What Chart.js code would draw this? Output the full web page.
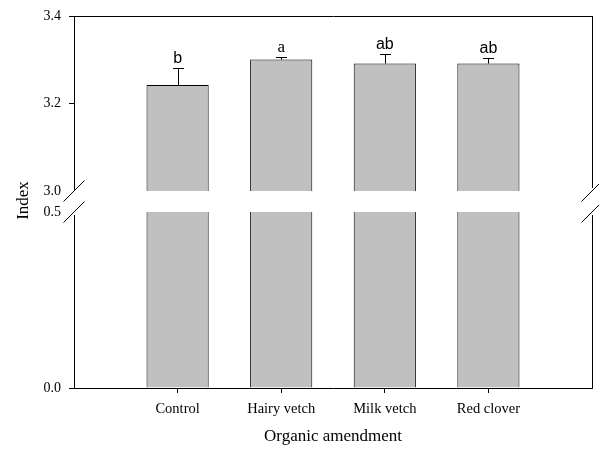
<!DOCTYPE html>
<html lang="en">
<head>
<meta charset="UTF-8">
<title>Index by organic amendment</title>
<script src="https://cdn.jsdelivr.net/npm/chart.js"></script>
<style>
  html, body { margin: 0; padding: 0; background: #fff; }
  .wrap { position: relative; width: 599px; height: 450px; }
  .wrap canvas { position: absolute; left: 0; top: 0; }
</style>
</head>
<body>
<div class="wrap">
  <canvas id="lowerChart" width="599" height="450"></canvas>
  <canvas id="upperChart" width="599" height="450"></canvas>
</div>
<script>
const categories = ['Control', 'Hairy vetch', 'Milk vetch', 'Red clover'];
const indexMeans = [3.243, 3.301, 3.292, 3.292];
const indexErrors = [0.039, 0.006, 0.021, 0.012];
const sigLetters = ['b', 'a', 'ab', 'ab'];
const upperTicks = [3.0, 3.2, 3.4];
const lowerTicks = [0.0, 0.5];

// empty slots at both ends so the bars sit at 1..4 of a 0..5 axis
const xLabels = ['', ...categories, ''];
const barData = [null, ...indexMeans, null];

const serif = "'Liberation Serif', 'Times New Roman', serif";
const sans = "'Liberation Sans', Arial, sans-serif";
const crisp = v => Math.round(v) + 0.5;

function xScaleOpts(show) {
  return {
    type: 'category',
    display: show,
    offset: false,
    afterFit: s => { if (show) s.height = 62; },
    grid: {
      offset: false,
      drawOnChartArea: false,
      tickLength: 5,
      tickColor: c => (c.index === 0 || c.index === xLabels.length - 1) ? 'rgba(0,0,0,0)' : '#000'
    },
    border: { display: true, color: '#000', width: 1 },
    ticks: { color: '#000', font: { family: serif, size: 14.5 }, padding: 7, maxRotation: 0, autoSkip: false },
    title: {
      display: true, text: 'Organic amendment', color: '#000',
      font: { family: serif, size: 17 }, padding: { top: 0, bottom: 3 }
    }
  };
}

function yScaleOpts(min, max, tickValues, hiddenTick) {
  return {
    min: min,
    max: max,
    afterFit: s => { s.width = 74; },
    afterBuildTicks: s => { s.ticks = tickValues.map(v => ({ value: v })); },
    grid: {
      drawOnChartArea: false,
      tickLength: 5,
      tickColor: c => (c.tick && c.tick.value === hiddenTick) ? 'rgba(0,0,0,0)' : '#000'
    },
    border: { display: false },
    ticks: { color: '#000', font: { family: serif, size: 14 }, padding: 8, callback: v => v.toFixed(1) }
  };
}

function slash(ctx, cx, cy) {
  ctx.beginPath();
  ctx.moveTo(cx - 10.5, cy + 10.5);
  ctx.lineTo(cx + 10.5, cy - 10.5);
  ctx.stroke();
}

function vline(ctx, x, y1, y2) {
  ctx.beginPath();
  ctx.moveTo(crisp(x), y1);
  ctx.lineTo(crisp(x), y2);
  ctx.stroke();
}

// error whiskers, letters, frame and break marks of the upper part
const upperMarks = {
  id: 'upperMarks',
  afterDatasetsDraw(chart) {
    const ctx = chart.ctx;
    const y = chart.scales.y;
    const bars = chart.getDatasetMeta(0).data;
    ctx.save();
    ctx.strokeStyle = '#000';
    ctx.lineWidth = 1;
    indexMeans.forEach((m, i) => {
      const bar = bars[i + 1];
      const x = crisp(bar.x);
      const yMean = y.getPixelForValue(m);
      const yTop = crisp(y.getPixelForValue(m + indexErrors[i]));
      ctx.beginPath();
      ctx.moveTo(x, yMean);
      ctx.lineTo(x, yTop);
      ctx.moveTo(x - 5.5, yTop);
      ctx.lineTo(x + 5.5, yTop);
      ctx.stroke();
      const letter = sigLetters[i];
      ctx.font = letter === 'a' ? '17px ' + serif : '16px ' + sans;
      ctx.fillStyle = '#000';
      ctx.textAlign = 'center';
      ctx.textBaseline = 'alphabetic';
      ctx.fillText(letter, bar.x, yTop - 5.5);
    });
    ctx.restore();
  },
  afterDraw(chart) {
    const ctx = chart.ctx;
    const a = chart.chartArea;
    ctx.save();
    ctx.strokeStyle = '#000';
    ctx.lineWidth = 1;
    ctx.beginPath();
    ctx.moveTo(a.left, crisp(a.top));
    ctx.lineTo(a.right + 1, crisp(a.top));
    ctx.stroke();
    vline(ctx, a.left, a.top, a.bottom - 1);
    vline(ctx, a.right, a.top, a.bottom - 3);
    slash(ctx, a.left, a.bottom);
    slash(ctx, a.right, a.bottom);
    ctx.restore();
  }
};

const lowerMarks = {
  id: 'lowerMarks',
  afterDraw(chart) {
    const ctx = chart.ctx;
    const a = chart.chartArea;
    ctx.save();
    ctx.strokeStyle = '#000';
    ctx.lineWidth = 1;
    vline(ctx, a.left, a.top + 3, a.bottom);
    vline(ctx, a.right, a.top + 3, a.bottom);
    slash(ctx, a.left, a.top);
    slash(ctx, a.right, a.top);
    ctx.translate(28, 200.5);
    ctx.rotate(-Math.PI / 2);
    ctx.font = '17px ' + serif;
    ctx.fillStyle = '#000';
    ctx.textAlign = 'center';
    ctx.textBaseline = 'alphabetic';
    ctx.fillText('Index', 0, 0);
    ctx.restore();
  }
};

const common = {
  responsive: false,
  animation: false,
  devicePixelRatio: 1,
  plugins: { legend: { display: false }, tooltip: { enabled: false } }
};

// LOWER PART 0.0 - 0.5
new Chart(document.getElementById('lowerChart'), {
  type: 'bar',
  data: {
    labels: xLabels,
    datasets: [{
      data: barData,
      backgroundColor: '#c0c0c0',
      borderColor: '#000',
      borderWidth: { top: 0, bottom: 0, left: 1, right: 1 },
      borderSkipped: false,
      barPercentage: 0.6,
      categoryPercentage: 1,
      clip: 0
    }]
  },
  options: {
    ...common,
    layout: { padding: { top: 212, right: 7, bottom: 0, left: 0 } },
    scales: {
      x: xScaleOpts(true),
      y: yScaleOpts(0, 0.5, lowerTicks, 0.5)
    }
  },
  plugins: [lowerMarks]
});

// UPPER PART 3.0 - 3.4
new Chart(document.getElementById('upperChart'), {
  type: 'bar',
  data: {
    labels: xLabels,
    datasets: [{
      data: barData,
      backgroundColor: '#c0c0c0',
      borderColor: '#000',
      borderWidth: 1,
      borderSkipped: 'start',
      barPercentage: 0.6,
      categoryPercentage: 1,
      clip: 0
    }]
  },
  options: {
    ...common,
    layout: { padding: { top: 15, right: 7, bottom: 259, left: 0 } },
    scales: {
      x: xScaleOpts(false),
      y: yScaleOpts(3.0, 3.4, upperTicks, 3.0)
    }
  },
  plugins: [upperMarks]
});
</script>
</body>
</html>
